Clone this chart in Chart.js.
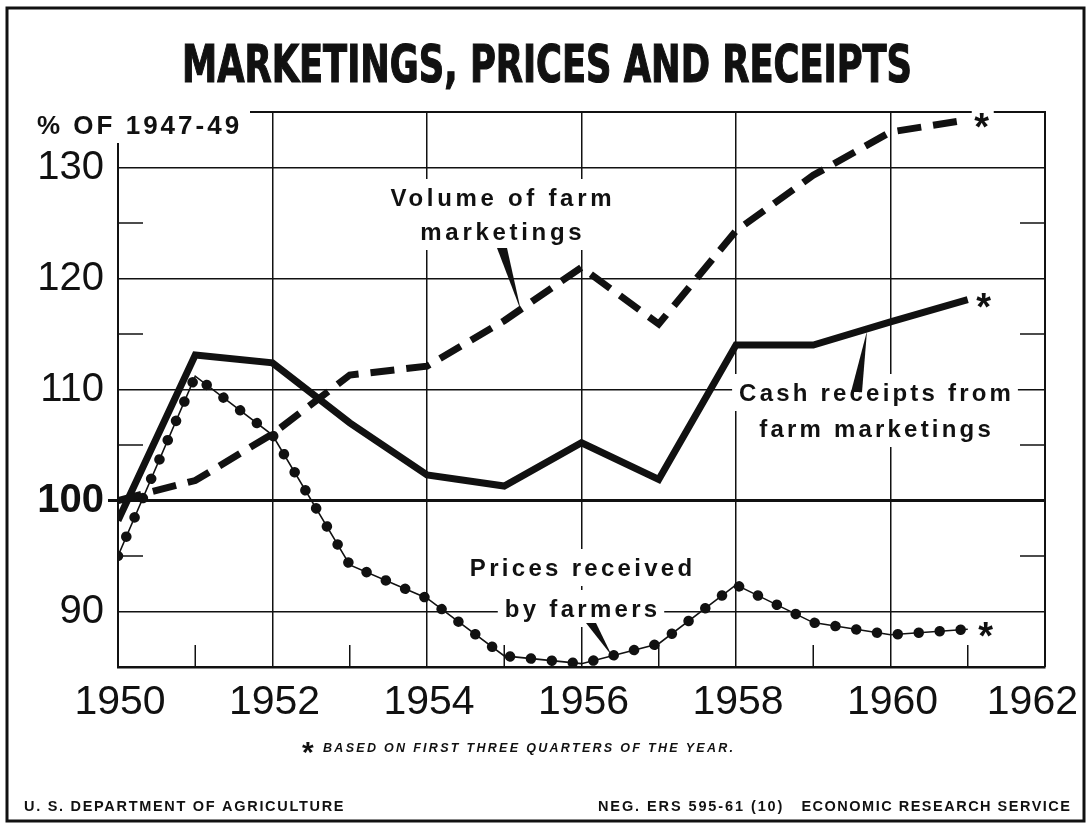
<!DOCTYPE html>
<html>
<head>
<meta charset="utf-8">
<script src="https://cdn.jsdelivr.net/npm/chart.js@4.4.1/dist/chart.umd.min.js"></script>
<style>
  html, body { margin: 0; padding: 0; background: #fff; }
  canvas { display: block; }
</style>
</head>
<body>
<canvas id="chart" width="1090" height="826"></canvas>
<script>
// values, % of 1947-49
const years = [1950, 1951, 1952, 1953, 1954, 1955, 1956, 1957, 1958, 1959, 1960, 1961];
const volumeOfMarketings = [100, 101.8, 106, 111.3, 112.1, 116.2, 121.0, 115.9, 124.3, 129.3, 133.2, 134.3];
const cashReceipts = [98.2, 113.1, 112.4, 107.0, 102.3, 101.3, 105.2, 101.9, 114.0, 114.0, 116.1, 118.1];
const pricesReceived = [95.0, 111.2, 105.9, 94.2, 91.2, 86.0, 85.3, 87.1, 92.4, 89.0, 87.9, 88.4];

const xTickLabels = [1950, 1952, 1954, 1956, 1958, 1960, 1962];
const xMinorTicks = [1951, 1953, 1955, 1957, 1959, 1961];
const yTickLabels = [90, 100, 110, 120, 130];
const yMinorTicks = [95, 105, 115, 125];

const INK = '#111';
const SANS = '"Liberation Sans", Arial, sans-serif';
const CONDENSED = '"Liberation Sans Narrow", "DejaVu Sans Condensed", sans-serif';

const points = (values) => years.map((yr, i) => ({ x: yr, y: values[i] }));

function line(ctx, x1, y1, x2, y2) {
    ctx.beginPath();
    ctx.moveTo(x1, y1);
    ctx.lineTo(x2, y2);
    ctx.stroke();
}

function spacedText(ctx, text, x, y, font, spacing, align) {
    ctx.font = font;
    ctx.letterSpacing = spacing + 'px';
    ctx.textAlign = 'left';
    const w = ctx.measureText(text).width - spacing;
    const x0 = align === 'center' ? x - w / 2 : (align === 'right' ? x - w : x);
    ctx.fillText(text, x0, y);
    return w;
}

// text block with a white backing that cuts the grid behind it
function boxedLines(ctx, lines, cx, baselines, font, spacing, capH) {
    ctx.font = font;
    ctx.letterSpacing = spacing + 'px';
    ctx.fillStyle = '#fff';
    lines.forEach((t, i) => {
        const w = ctx.measureText(t).width - spacing;
        ctx.fillRect(cx - w / 2 - 7, baselines[i] - capH - 9, w + 14, capH + 19);
    });
    ctx.fillStyle = INK;
    lines.forEach((t, i) => spacedText(ctx, t, cx, baselines[i], font, spacing, 'center'));
}

function wedge(ctx, ax, ay, bx, by, tx, ty) {
    ctx.beginPath();
    ctx.moveTo(ax, ay);
    ctx.lineTo(bx, by);
    ctx.lineTo(tx, ty);
    ctx.closePath();
    ctx.fill();
}

function star(ctx, px, py) {
    ctx.fillStyle = '#fff';
    ctx.fillRect(px - 10, py - 11, 22, 22);
    ctx.fillStyle = INK;
    ctx.font = `bold 38px ${SANS}`;
    ctx.letterSpacing = '0px';
    ctx.textAlign = 'center';
    ctx.fillText('*', px, py + 22);
}

const decor = {
    id: 'decor',
    beforeDatasetsDraw(chart) {
        const { ctx, chartArea: a, scales: { x, y } } = chart;
        ctx.save();
        ctx.strokeStyle = INK;
        ctx.fillStyle = INK;

        // top and right edges of the plot
        ctx.lineWidth = 2;
        ctx.beginPath();
        ctx.moveTo(a.left, a.top);
        ctx.lineTo(a.right, a.top);
        ctx.lineTo(a.right, a.bottom);
        ctx.stroke();

        // 100 line runs a little past the axis
        ctx.lineWidth = 3;
        const y100 = y.getPixelForValue(100);
        line(ctx, a.left - 10, y100, a.left, y100);

        // minor ticks
        ctx.lineWidth = 1.5;
        yMinorTicks.forEach((v) => {
            const py = y.getPixelForValue(v);
            line(ctx, a.left, py, a.left + 25, py);
            line(ctx, a.right - 25, py, a.right, py);
        });
        xMinorTicks.forEach((v) => {
            const px = x.getPixelForValue(v);
            line(ctx, px, a.bottom, px, a.bottom - 22);
        });

        // year labels under the axis, the last one kept inside the frame
        ctx.font = `41px ${SANS}`;
        ctx.letterSpacing = '0px';
        ctx.textAlign = 'center';
        xTickLabels.forEach((v) => {
            const t = String(v);
            const w = ctx.measureText(t).width;
            const px = Math.min(x.getPixelForValue(v) + 2, 1078 - w / 2);
            ctx.fillText(t, px, a.bottom + 47);
        });

        // unit label in the top-left corner
        ctx.fillStyle = '#fff';
        ctx.fillRect(20, 100, 230, 43);
        ctx.fillStyle = INK;
        spacedText(ctx, '% OF 1947-49', 37, 134, `bold 26px ${SANS}`, 3, 'left');

        // series labels
        const lab = `bold 24px ${SANS}`;
        boxedLines(ctx, ['Volume of farm', 'marketings'], 501, [206, 240], lab, 3.7, 18);
        wedge(ctx, 497, 248, 507, 248, 521, 311);

        boxedLines(ctx, ['Cash receipts from', 'farm marketings'], 875, [401, 437], lab, 3.2, 18);
        wedge(ctx, 851, 392, 862, 392, 867, 331);

        boxedLines(ctx, ['Prices received', 'by farmers'], 581, [576, 617], lab, 3.3, 18);
        wedge(ctx, 586, 623, 596, 623, 612, 656);

        // asterisks after the last (part-year) values
        const lastX = x.getPixelForValue(years[years.length - 1]) + 14;
        star(ctx, lastX, y.getPixelForValue(volumeOfMarketings[volumeOfMarketings.length - 1]) - 2);
        star(ctx, lastX + 2, y.getPixelForValue(cashReceipts[cashReceipts.length - 1]) - 2);
        star(ctx, lastX + 4, y.getPixelForValue(pricesReceived[pricesReceived.length - 1]) - 2);

        ctx.restore();
    },
    afterDraw(chart) {
        const { ctx } = chart;
        ctx.save();
        ctx.fillStyle = INK;
        ctx.strokeStyle = INK;

        // outer frame
        ctx.lineWidth = 3;
        ctx.strokeRect(7, 8, 1077, 813);

        // title, squeezed to the width of the original lettering
        const title = 'MARKETINGS, PRICES AND RECEIPTS';
        ctx.font = `bold 52px ${CONDENSED}`;
        ctx.letterSpacing = '0px';
        const tw = ctx.measureText(title).width;
        ctx.translate(547, 82);
        ctx.scale(730 / tw, 1);
        ctx.textAlign = 'center';
        ctx.lineWidth = 1.2;
        ctx.fillText(title, 0, 0);
        ctx.strokeText(title, 0, 0);
        ctx.setTransform(1, 0, 0, 1, 0, 0);

        // footnote
        ctx.textAlign = 'left';
        ctx.font = `bold 30px ${SANS}`;
        ctx.fillText('*', 302, 762);
        spacedText(ctx, 'BASED ON FIRST THREE QUARTERS OF THE YEAR.', 323, 752, `italic bold 12.5px ${SANS}`, 2.3, 'left');

        // credits
        const small = `bold 14.5px ${SANS}`;
        spacedText(ctx, 'U. S. DEPARTMENT OF AGRICULTURE', 24, 811, small, 1.7, 'left');
        spacedText(ctx, 'NEG. ERS 595-61 (10)', 598, 811, small, 1.9, 'left');
        spacedText(ctx, 'ECONOMIC RESEARCH SERVICE', 1070, 811, small, 1.5, 'right');

        ctx.restore();
    },
};

new Chart(document.getElementById('chart'), {
    type: 'line',
    data: {
        datasets: [
            {
                label: 'Volume of farm marketings',
                data: points(volumeOfMarketings),
                borderColor: INK,
                borderWidth: 7,
                borderDash: [24, 12],
                borderCapStyle: 'butt',
                borderJoinStyle: 'miter',
                pointRadius: 0,
            },
            {
                label: 'Cash receipts from farm marketings',
                data: points(cashReceipts),
                borderColor: INK,
                borderWidth: 7,
                borderJoinStyle: 'miter',
                pointRadius: 0,
            },
            {
                label: 'Prices received by farmers',
                data: points(pricesReceived),
                borderColor: INK,
                borderWidth: 1.6,
                pointRadius: 0,
            },
            {
                // the bead pattern along the prices line
                label: 'Prices received by farmers (beads)',
                data: points(pricesReceived),
                borderColor: INK,
                borderWidth: 10.5,
                borderDash: [0.01, 21],
                borderCapStyle: 'round',
                pointRadius: 0,
            },
        ],
    },
    options: {
        responsive: false,
        animation: false,
        devicePixelRatio: 1,
        layout: { padding: { top: 112, right: 45, left: 0, bottom: 0 } },
        plugins: {
            legend: { display: false },
            tooltip: { enabled: false },
        },
        scales: {
            x: {
                type: 'linear',
                min: 1950,
                max: 1962,
                afterBuildTicks: (s) => { s.ticks = xTickLabels.map((v) => ({ value: v })); },
                afterFit: (s) => { s.height = 159; s.paddingLeft = 0; s.paddingRight = 0; },
                ticks: { display: false },
                grid: { color: INK, lineWidth: 1.5, drawTicks: false },
                border: { color: INK, width: 2.5 },
            },
            y: {
                min: 85,
                max: 135,
                afterBuildTicks: (s) => { s.ticks = yTickLabels.map((v) => ({ value: v })); },
                afterFit: (s) => { s.width = 118; },
                ticks: {
                    color: INK,
                    font: (c) => ({
                        family: SANS,
                        size: 40,
                        weight: c.tick && c.tick.value === 100 ? 'bold' : 'normal',
                    }),
                    padding: 14,
                    callback: (v) => String(v),
                },
                grid: {
                    color: INK,
                    lineWidth: (c) => (c.tick && c.tick.value === 100 ? 3 : 1.5),
                    drawTicks: false,
                },
                border: { color: INK, width: 2 },
            },
        },
    },
    plugins: [decor],
});
</script>
</body>
</html>
